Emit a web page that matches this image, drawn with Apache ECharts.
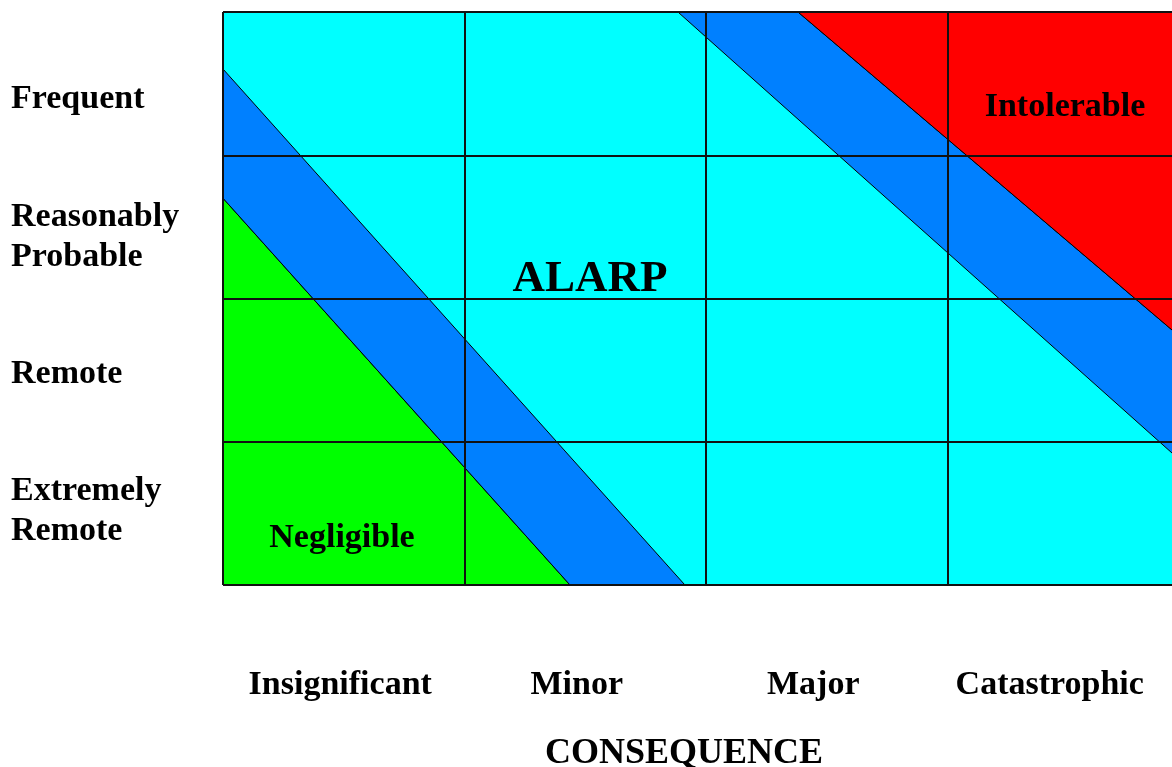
<!DOCTYPE html>
<html>
<head>
<meta charset="utf-8">
<script src="https://cdn.jsdelivr.net/npm/echarts@6/dist/echarts.min.js"></script>
<style>
html,body{margin:0;padding:0;background:#fff;}
#c{width:1172px;height:767px;}
</style>
</head>
<body>
<div id="c"></div>
<script>
// Categories
const consequence = ['Insignificant', 'Minor', 'Major', 'Catastrophic'];
const likelihood = ['Frequent', 'Reasonably\nProbable', 'Remote', 'Extremely\nRemote'];

// Zone polygons in (consequence, likelihood) units, 0..4 each
const negligibleZone = [[0, 0], [0, 2.70], [1.437, 0]];
const lowerBandZone = [[0, 2.70], [0, 3.602], [1.913, 0], [1.437, 0]];
const upperBandZone = [[1.884, 4], [2.381, 4], [4, 1.68], [4, 0.816]];
const intolerableZone = [[2.381, 4], [4, 4], [4, 1.68]];

const zoneNames = ['Negligible', 'ALARP band', 'ALARP band', 'Intolerable'];
const zones = [negligibleZone, lowerBandZone, upperBandZone, intolerableZone];
const zoneColors = ['#00ff00', '#0080ff', '#0080ff', '#ff0000'];

// visible part of the consequence axis (the picture is cut off inside the last column)
const xVisibleMax = 3.93;

const FONT = 'Liberation Serif';
const chart = echarts.init(document.getElementById('c'));

const option = {
  animation: false,
  grid: [
    { left: 223, top: 12, right: 0, bottom: 182, show: true, backgroundColor: '#00ffff', borderWidth: 0 },
    { left: 222, top: 31, right: 4, bottom: 187, show: false }
  ],
  xAxis: [
    {
      gridIndex: 0, type: 'value', min: 0, max: xVisibleMax, interval: 1, z: 10,
      axisLine: { show: false }, axisTick: { show: false }, axisLabel: { show: false },
      splitLine: { show: true, showMaxLine: false, lineStyle: { color: '#111', width: 2 } }
    },
    {
      gridIndex: 1, type: 'category', data: consequence, position: 'bottom',
      axisLine: { show: false }, axisTick: { show: false }, splitLine: { show: false },
      axisLabel: {
        interval: 0, margin: 105, verticalAlign: 'middle', color: '#000',
        fontFamily: FONT, fontWeight: 'bold', fontSize: 34
      }
    }
  ],
  yAxis: [
    {
      gridIndex: 0, type: 'value', min: 0, max: 4, interval: 1, z: 10,
      axisLine: { show: false }, axisTick: { show: false }, axisLabel: { show: false },
      splitLine: { show: true, lineStyle: { color: '#111', width: 2 } }
    },
    {
      gridIndex: 1, type: 'category', data: likelihood, inverse: true,
      axisLine: { show: false }, axisTick: { show: false }, splitLine: { show: false },
      axisLabel: {
        interval: 0, align: 'left', margin: 211, verticalAlign: 'middle', lineHeight: 40, color: '#000',
        fontFamily: FONT, fontWeight: 'bold', fontSize: 34
      }
    }
  ],
  series: [
    {
      type: 'custom',
      xAxisIndex: 0, yAxisIndex: 0,
      data: zones.map((z, i) => ({ name: zoneNames[i], value: [i] })),
      renderItem: function (params, api) {
        const pts = zones[params.dataIndex].map(p => api.coord(p));
        return {
          type: 'polygon',
          shape: { points: pts },
          style: { fill: zoneColors[params.dataIndex], stroke: '#000', lineWidth: 1 }
        };
      },
      silent: true
    }
  ],
  graphic: [
    { type: 'text', x: 590, y: 279, z: 100, style: { text: 'ALARP', fill: '#000', font: 'bold 45px "Liberation Serif"', textAlign: 'center', textVerticalAlign: 'middle' } },
    { type: 'text', x: 1065, y: 107, z: 100, style: { text: 'Intolerable', fill: '#000', font: 'bold 34px "Liberation Serif"', textAlign: 'center', textVerticalAlign: 'middle' } },
    { type: 'text', x: 342, y: 538, z: 100, style: { text: 'Negligible', fill: '#000', font: 'bold 34px "Liberation Serif"', textAlign: 'center', textVerticalAlign: 'middle' } },
    { type: 'text', x: 684, y: 754, z: 100, style: { text: 'CONSEQUENCE', fill: '#000', font: 'bold 36px "Liberation Serif"', textAlign: 'center', textVerticalAlign: 'middle' } }
  ]
};
chart.setOption(option);
</script>
</body>
</html>
